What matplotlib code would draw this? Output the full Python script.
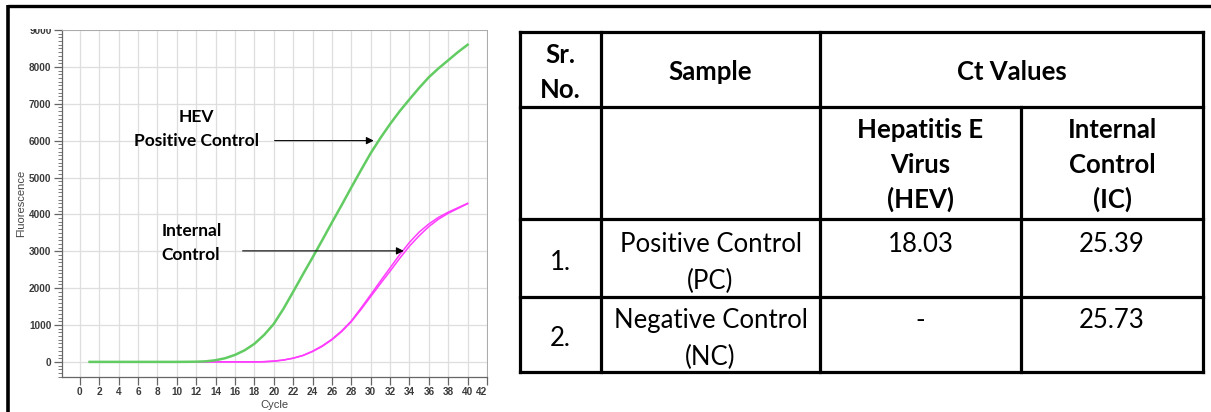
import matplotlib
matplotlib.use('Agg')
import matplotlib.pyplot as plt
from matplotlib.ticker import MultipleLocator
from matplotlib.patches import Rectangle

# ---------------- data ----------------
cycles = list(range(1, 41))
hev_pc = [0, 0, 0, 0, 0, 0, 0, 0, 0, 0,
          2, 5, 15, 45, 100, 190, 315, 490, 730, 1030,
          1440, 1900, 2370, 2830, 3300, 3780, 4250, 4730, 5200, 5660,
          6070, 6450, 6800, 7120, 7430, 7720, 7960, 8180, 8400, 8600]
ic_pc = [0, 0, 0, 0, 0, 0, 0, 0, 0, 0,
         0, 0, 0, 0, 0, 0, 0, 0, 5, 20,
         50, 100, 170, 280, 420, 600, 820, 1090, 1420, 1770,
         2120, 2460, 2810, 3140, 3420, 3670, 3870, 4030, 4160, 4290]
ic_nc = [0, 0, 0, 0, 0, 0, 0, 0, 0, 0,
         0, 0, 0, 0, 0, 0, 0, 0, 5, 20,
         50, 100, 175, 290, 435, 615, 840, 1110, 1460, 1820,
         2190, 2550, 2910, 3240, 3520, 3740, 3920, 4060, 4180, 4300]

x_ticks = list(range(0, 43, 2))
y_ticks = list(range(0, 9001, 1000))

col_headers = ["Sr.\nNo.", "Sample", "Ct Values"]
sub_headers = ["Hepatitis E\nVirus\n(HEV)", "Internal\nControl\n(IC)"]
sr_no = ["1.", "2."]
samples = ["Positive Control\n(PC)", "Negative Control\n(NC)"]
ct_hev = ["18.03", "-"]
ct_ic = ["25.39", "25.73"]

# ---------------- figure ----------------
W, H = 1211, 412
fig = plt.figure(figsize=(W / 100, H / 100), dpi=100)
fig.patch.set_facecolor('white')

TICKFONT = 'Liberation Sans'
LABFONT = 'Lato'

ax = fig.add_axes([62 / W, 1 - 377 / H, (487 - 62) / W, (377 - 30) / H], zorder=1)
ax.plot(cycles, ic_nc, color='#ff3cff', lw=1.1)
ax.plot(cycles, ic_pc, color='#ff3cff', lw=1.1)
ax.plot(cycles, hev_pc, color='#62cc62', lw=1.8)

ax.set_xlim(-1.85, 42)
ax.set_ylim(-410, 9000)
ax.set_xticks(x_ticks)
ax.set_yticks(y_ticks)
ax.yaxis.set_minor_locator(MultipleLocator(100))
ax.grid(True, which='major', color='#dedede', lw=0.9)
ax.set_axisbelow(True)
ax.tick_params(which='major', direction='out', length=6, width=0.9, color='#666666',
               labelsize=7.2, labelcolor='#3a3a3a', pad=1.5)
ax.tick_params(which='minor', direction='out', length=3, width=0.6, color='#666666')
for lab in ax.get_xticklabels() + ax.get_yticklabels():
    lab.set_fontfamily(TICKFONT)
    lab.set_fontweight('bold')
ax.get_xticklabels()[-1].set_ha('right')
for s in ('left', 'bottom'):
    ax.spines[s].set_color('#666666')
    ax.spines[s].set_linewidth(0.9)
for s in ('top', 'right'):
    ax.spines[s].set_color('#aaaaaa')
    ax.spines[s].set_linewidth(0.7)

ax.set_xlabel('Cycle', fontsize=8, color='#444444', family=TICKFONT)
ax.set_ylabel('Fluorescence', fontsize=8, color='#444444', family=TICKFONT)
ax.xaxis.set_label_coords(0.5, -0.065)
ax.yaxis.set_label_coords(-0.085, 0.5)

# annotations
AFS = 12.5
ax.text(12.0, 6640, 'HEV', ha='center', va='center', fontsize=AFS, fontweight='bold', family=LABFONT)
ax.text(12.0, 5980, 'Positive Control', ha='center', va='center', fontsize=AFS,
        fontweight='bold', family=LABFONT)
ax.annotate('', xy=(30.6, 6000), xytext=(19.8, 6000),
            arrowprops=dict(arrowstyle='-|>', color='black', lw=0.8, mutation_scale=11))
ax.text(8.45, 3540, 'Internal', ha='left', va='center', fontsize=AFS, fontweight='bold', family=LABFONT)
ax.text(8.45, 2900, 'Control', ha='left', va='center', fontsize=AFS, fontweight='bold', family=LABFONT)
ax.annotate('', xy=(33.7, 3010), xytext=(16.5, 3010),
            arrowprops=dict(arrowstyle='-|>', color='black', lw=0.8, mutation_scale=11))

# ---------------- overlay: frame + table ----------------
ov = fig.add_axes([0, 0, 1, 1], zorder=5)
ov.set_xlim(0, W)
ov.set_ylim(H, 0)
ov.axis('off')

# clip of top tick label as in the screenshot
ov.add_patch(Rectangle((15, 8), 45, 20.5, facecolor='white', edgecolor='none'))

# outer frame (top and left)
ov.plot([8, W], [6, 6], color='black', lw=2.4, solid_capstyle='butt')
ov.plot([8, 8], [5, H], color='black', lw=2.6, solid_capstyle='butt')

xs = [520, 601, 820, 1021, 1203]
ys = [32, 107, 219, 297, 372]
lw_t = 2.3
ov.plot([xs[0], xs[4]], [ys[0], ys[0]], color='black', lw=lw_t, solid_capstyle='projecting')
ov.plot([xs[2], xs[4]], [ys[1], ys[1]], color='black', lw=lw_t, solid_capstyle='projecting')
ov.plot([xs[0], xs[2]], [ys[1], ys[1]], color='black', lw=lw_t, solid_capstyle='projecting')
for yy in ys[2:]:
    ov.plot([xs[0], xs[4]], [yy, yy], color='black', lw=lw_t, solid_capstyle='projecting')
for i, xx in enumerate(xs):
    y0 = ys[1] if i == 3 else ys[0]
    ov.plot([xx, xx], [y0, ys[4]], color='black', lw=lw_t, solid_capstyle='projecting')

FS = 18.5


def cell(text, xc, base0, spacing, bold):
    for k, line in enumerate(text.split('\n')):
        ov.text(xc, base0 + k * spacing, line, ha='center', va='baseline', fontsize=FS,
                fontweight='bold' if bold else 'normal', family=LABFONT, color='black')


cx = [(xs[i] + xs[i + 1]) / 2 for i in range(4)]
cell(col_headers[0], cx[0], 63, 35, True)
cell(col_headers[1], cx[1], 80, 35, True)
cell(col_headers[2], (xs[2] + xs[4]) / 2, 80, 35, True)
cell(sub_headers[0], cx[2], 138, 35, True)
cell(sub_headers[1], cx[3], 138, 35, True)

row_base = [252, 328]
for r in range(2):
    cell(sr_no[r], cx[0], row_base[r] + 18, 37, False)
    cell(samples[r], cx[1], row_base[r], 37, False)
    cell(ct_hev[r], cx[2], row_base[r], 37, False)
    cell(ct_ic[r], cx[3], row_base[r], 37, False)

fig.savefig('out.png', dpi=100, facecolor='white')
